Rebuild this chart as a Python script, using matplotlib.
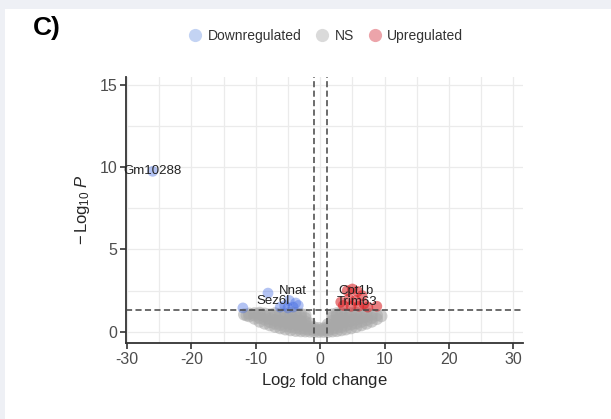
import matplotlib
matplotlib.use("Agg")
import matplotlib.pyplot as plt
from matplotlib.lines import Line2D
from matplotlib.patches import Rectangle

plt.rcParams['font.family'] = ['Liberation Sans', 'DejaVu Sans']
plt.rcParams['mathtext.fontset'] = 'custom'
plt.rcParams['mathtext.rm'] = 'Liberation Sans'
plt.rcParams['mathtext.it'] = 'Liberation Sans:italic'
plt.rcParams['axes.unicode_minus'] = False

# non-significant genes (log2 fold change, -log10 p), read off the blob
ns_lfc = [-11.8, -11.4,
          -11.0, -11.0,
          -10.2, -10.2, -10.2,
          -9.4, -9.4, -9.4, -9.4,
          -8.6, -8.6, -8.6, -8.6,
          -7.8, -7.8, -7.8, -7.8,
          -7.0, -7.0, -7.0, -7.0, -7.0,
          -6.2, -6.2, -6.2, -6.2, -6.2,
          -5.4, -5.4, -5.4, -5.4, -5.4,
          -4.6, -4.6, -4.6, -4.6, -4.6, -4.6,
          -3.8, -3.8, -3.8, -3.8, -3.8, -3.8,
          -3.0, -3.0, -3.0, -3.0, -3.0, -3.0,
          -2.3, -2.3, -2.3, -2.3, -2.3, -2.3,
          -1.6, -1.6, -1.6, -1.6,
          -0.9, -0.9, -0.9,
          -0.2, -0.2, -0.2,
          0.5, 0.5, 0.5,
          1.2, 1.2, 1.2, 1.2,
          1.9, 1.9, 1.9, 1.9, 1.9, 1.9,
          2.6, 2.6, 2.6, 2.6, 2.6, 2.6,
          3.3, 3.3, 3.3, 3.3, 3.3, 3.3,
          4.0, 4.0, 4.0, 4.0, 4.0,
          4.8, 4.8, 4.8, 4.8, 4.8,
          5.6, 5.6, 5.6, 5.6, 5.6,
          6.4, 6.4, 6.4, 6.4,
          7.2, 7.2, 7.2, 7.2,
          8.0, 8.0, 8.0,
          8.8, 8.8,
          9.5]
ns_logp = [1.05, 1.0,
           0.95, 1.1,
           0.8, 1.0, 1.12,
           0.62, 0.85, 1.05, 1.15,
           0.5, 0.75, 0.95, 1.1,
           0.4, 0.6, 0.8, 1.05,
           0.3, 0.5, 0.7, 0.95, 1.12,
           0.22, 0.42, 0.65, 0.88, 1.1,
           0.15, 0.35, 0.58, 0.82, 1.05,
           0.1, 0.3, 0.52, 0.75, 0.98, 1.15,
           0.06, 0.25, 0.45, 0.7, 0.92, 1.12,
           0.04, 0.2, 0.42, 0.65, 0.88, 1.08,
           0.03, 0.18, 0.38, 0.6, 0.82, 1.02,
           0.02, 0.15, 0.32, 0.5,
           0.0, 0.12, 0.25,
           0.0, 0.1, 0.22,
           0.0, 0.1, 0.2,
           0.0, 0.12, 0.28, 0.45,
           0.03, 0.2, 0.42, 0.65, 0.88, 1.05,
           0.05, 0.25, 0.48, 0.72, 0.95, 1.12,
           0.1, 0.3, 0.55, 0.8, 1.02, 1.15,
           0.15, 0.38, 0.62, 0.85, 1.08,
           0.22, 0.45, 0.7, 0.92, 1.12,
           0.3, 0.52, 0.75, 0.98, 1.15,
           0.4, 0.62, 0.85, 1.05,
           0.5, 0.72, 0.95, 1.12,
           0.62, 0.85, 1.05,
           0.78, 1.0,
           0.95]

down_lfc = [-26.0, -12.0, -8.1, -6.2, -5.5, -5.0, -4.8, -4.2, -3.8, -3.4]
down_logp = [9.75, 1.45, 2.35, 1.5, 1.6, 1.45, 1.9, 1.5, 1.75, 1.6]

up_lfc = [3.2, 3.6, 4.2, 4.5, 4.8, 5.0, 5.5, 5.8, 6.0, 6.5, 6.8, 7.4, 8.8]
up_logp = [1.8, 1.6, 2.5, 2.0, 1.55, 2.6, 1.9, 2.45, 1.55, 2.2, 1.7, 1.5, 1.55]

lab_genes = ['Gm10288', 'Nnat', 'Sez6l', 'Cpt1b', 'Trim63']
lab_x = [-26.0, -4.2, -7.3, 5.6, 5.8]
lab_y = [9.75, 2.45, 1.88, 2.5, 1.78]

fig = plt.figure(figsize=(6.11, 4.19), dpi=100)
fig.patch.set_facecolor('#eef0f5')
fig.add_artist(Rectangle((5 / 611, 0), 1, 1 - 9 / 419, transform=fig.transFigure,
                         facecolor='white', edgecolor='none', zorder=-1))

ax = fig.add_axes([126 / 611, 1 - 343.3 / 419, (523 - 126) / 611, (343.3 - 76.7) / 419])
ax.set_facecolor('none')
ax.set_xlim(-30.15, 31.5)
ax.set_ylim(-0.7, 15.5)

ax.set_xticks(range(-30, 31, 10))
ax.set_xticks(range(-25, 30, 10), minor=True)
ax.set_yticks([0, 5, 10, 15])
ax.set_yticks([2.5, 7.5, 12.5], minor=True)
ax.grid(which='both', color='#ebebeb', lw=0.9)
ax.set_axisbelow(True)
ax.tick_params(which='major', length=4, width=1.2, color='#333333',
               labelcolor='#4d4d4d', labelsize=11.5, pad=2)
ax.tick_params(which='minor', length=0)
for s in ['top', 'right']:
    ax.spines[s].set_visible(False)
for s in ['left', 'bottom']:
    ax.spines[s].set_color('#333333')
    ax.spines[s].set_linewidth(1.3)

ax.scatter(ns_lfc, ns_logp, s=78, color='#a8a8a8', alpha=0.55, edgecolors='none', zorder=2)
ax.scatter(down_lfc, down_logp, s=60, color='royalblue', alpha=0.4, edgecolors='none', zorder=3)
ax.scatter(up_lfc, up_logp, s=60, color='#d7191c', alpha=0.55, edgecolors='none', zorder=3)

dash = (0, (4, 2.2))
ax.axvline(-1, color='#444444', lw=1.1, ls=dash, zorder=4)
ax.axvline(1, color='#444444', lw=1.1, ls=dash, zorder=4)
ax.axhline(1.3, color='#444444', lw=1.1, ls=dash, zorder=4)

for g, x, y in zip(lab_genes, lab_x, lab_y):
    ax.text(x, y, g, fontsize=9.5, color='#222222', ha='center', va='center', zorder=5)

ax.set_xlabel(r'$\mathrm{Log}_{2}$ fold change', fontsize=12, color='#262626', labelpad=3)
ax.set_ylabel(r'$-\,\mathrm{Log}_{10}\;\mathit{P}$', fontsize=12, color='#262626', labelpad=6)

handles = [Line2D([], [], marker='o', ls='', markersize=9.5, markerfacecolor=c,
                  markeredgecolor='none') for c in ['#c3d3f3', '#dadada', '#eca4aa']]
leg = fig.legend(handles, ['Downregulated', 'NS', 'Upregulated'], loc='center',
                 bbox_to_anchor=(0.532, 0.914), ncol=3, frameon=False, fontsize=10,
                 handletextpad=0.3, columnspacing=0.9, handlelength=1.2)
for t in leg.get_texts():
    t.set_color('#333333')

fig.text(33 / 611, 1 - 28 / 419, 'C)', fontsize=19, fontweight='bold', va='center', ha='left')

fig.savefig('out.png', dpi=100, facecolor=fig.get_facecolor())
